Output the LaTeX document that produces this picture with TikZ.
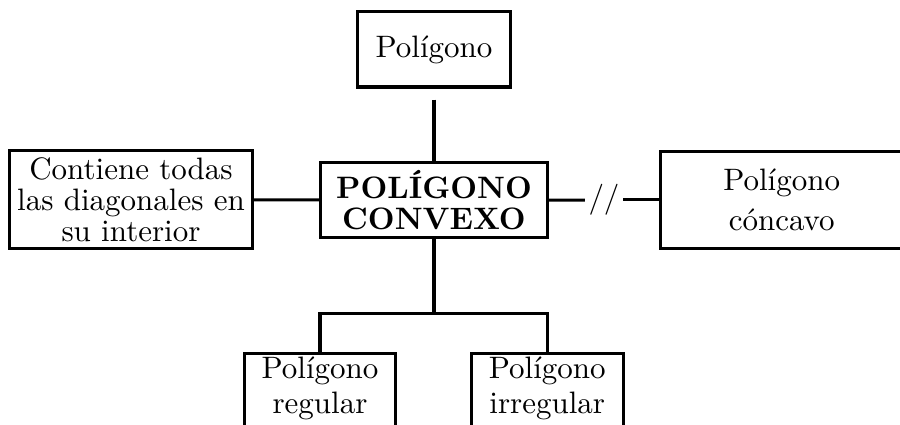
\documentclass[tikz,border=0pt]{standalone}
\usepackage{amsmath, amssymb}
\usepackage{xcolor}
\usepackage{tikz}
\usetikzlibrary{positioning,shapes}

\begin{document}
\begin{tikzpicture}[
            x=0.3226pt, y=-0.3226pt,
            box/.style={rectangle, draw, line width=0.97pt, inner sep=0pt, align=center,
                font=\fontsize{10}{10}\selectfont},
            leaf/.style={anchor=north, inner sep=1pt, minimum width=49pt, text depth=20pt},
            link/.style={line width=0.97pt}
        ]
            \useasboundingbox (0,0) rectangle (900,425);
            \clip (0,0) rectangle (900,425);
            \begin{scope}[
                every node/.style={box}
            ]
                % Boxes
                \node[minimum width=49.4pt, minimum height=24.2pt] (pol) at (434, 49.5) {Pol\'igono};
                \node[minimum width=73.3pt, minimum height=24.3pt] (conv) at (434, 200.3) {\textbf{POL\'IGONO}\\\textbf{CONVEXO}};
                \node[minimum width=78.1pt, minimum height=31.4pt] (diag) at (131, 199.4) {Contiene todas\\las diagonales en\\su interior};
                \node[minimum width=78.1pt, minimum height=31.1pt] (conc) at (781.7, 200) {Pol\'igono\\[2.9pt]c\'oncavo};
                \node[leaf] (reg) at (320, 352) {Pol\'igono\\[1.3pt]regular};
                \node[leaf] (irreg) at (547.3, 352) {Pol\'igono\\[1.3pt]irregular};
            \end{scope}
            \node[inner sep=1pt, font=\fontsize{10}{10}\selectfont] (sep) at (604, 200) {//};
            \coordinate (fork) at (434, 314);
            % Links
            \draw[link, shorten <=3.55pt] (pol) -- (conv);
            \draw[link] (diag) -- (conv);
            \draw[link] (conv) -- (sep);
            \draw[link] (sep) -- (conc);
            \draw[link] (conv) -- (fork);
            \draw[link] (reg.north) |- (fork) -| (irreg.north);
        \end{tikzpicture}
\end{document}
